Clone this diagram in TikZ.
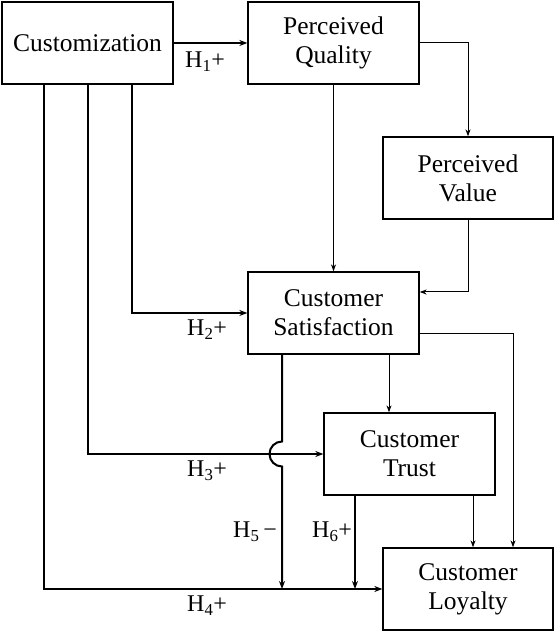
\documentclass[tikz,border=0pt]{standalone}
\usepackage{fontspec}
\setmainfont{Liberation Serif}
\usetikzlibrary{arrows.meta}
\begin{document}
\begin{tikzpicture}[x=1pt,y=1pt,
  box/.style={draw, line width=1.3pt, minimum width=171pt, minimum height=82pt, inner sep=0pt, align=center, font=\fontsize{25.5}{29}\selectfont},
  thk/.style={line width=2pt, -{Stealth[length=8pt,width=6pt]}},
  thn/.style={line width=1pt, -{Stealth[length=7pt,width=5pt]}},
  lbl/.style={font=\fontsize{24}{28}\selectfont, inner sep=0pt, anchor=base west}]
\useasboundingbox (0,0) rectangle (554,631);
\node[box] (cz) at (87.5,588) {Customization};
\node[box] (pq) at (333.5,588) {Perceived\\Quality};
\node[box, minimum width=170pt] (pv) at (468,453) {Perceived\\Value};
\node[box] (cs) at (333.5,318) {Customer\\Satisfaction};
\node[box] (ct) at (409.5,177) {Customer\\Trust};
\node[box, minimum width=170pt] (cl) at (468,42) {Customer\\Loyalty};
% helper coordinates
\coordinate (czA) at ([xshift=-43.5pt]cz.south);
\coordinate (czB) at (cz.south);
\coordinate (czC) at ([xshift=44.5pt]cz.south);
\coordinate (csA) at ([xshift=-51.5pt]cs.south);
\coordinate (csB) at ([xshift=55.5pt]cs.south);
\coordinate (csR) at ([yshift=-21pt]cs.east);
\coordinate (csIn) at ([yshift=21pt]cs.east);
\coordinate (ctA) at ([xshift=-54.5pt]ct.south);
\coordinate (ctB) at ([xshift=63.5pt]ct.south);
\coordinate (clR) at ([xshift=45pt]cl.north);
% connectors
\draw[thk] (cz.east) -- (pq.west);
\draw[thn] (pq.east) -| (pv.north);
\draw[thn] (pq.south) -- (cs.north);
\draw[thn] (pv.south) |- (csIn);
\draw[thk] (czC) |- (cs.west);
\draw[thk] (czB) |- (ct.west);
\draw[thk] (czA) |- (cl.west);
\draw[thk] (csA) -- ([yshift=12.5pt]csA |- ct.west) arc[start angle=90, end angle=270, radius=12.5pt] -- (csA |- cl.west);
\draw[thk] (ctA) -- (ctA |- cl.west);
\draw[thn] (csB) -- (csB |- ct.north);
\draw[thn] (ctB) -- (ctB |- cl.north);
\draw[thn] (csR) -| (clR);
% labels
\node[lbl] (h1) at (185,563) {H\textsubscript{1}+};
\node[lbl] (h2) at (187,295) {H\textsubscript{2}+};
\node[lbl] (h3) at (187,154) {H\textsubscript{3}+};
\node[lbl] (h4) at (187,19) {H\textsubscript{4}+};
\node[lbl] (h5) at (233,93) {H\textsubscript{5}\,−};
\node[lbl] (h6) at (312,93) {H\textsubscript{6}+};
\end{tikzpicture}
\end{document}
